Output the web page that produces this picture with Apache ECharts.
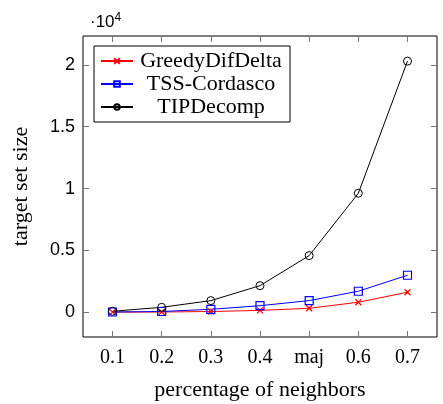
<!DOCTYPE html>
<html>
<head>
<meta charset="utf-8">
<script src="https://cdn.jsdelivr.net/npm/echarts@6/dist/echarts.min.js"></script>
<style>html,body{margin:0;padding:0;background:#fff;}#c{width:443px;height:404px;}</style>
</head>
<body>
<div id="c"></div>
<script>
const categories = ['0.1', '0.2', '0.3', '0.4', 'maj', '0.6', '0.7'];
const greedyDifDelta = [10, 20, 60, 150, 320, 810, 1620];
const tssCordasco = [20, 60, 240, 530, 940, 1700, 2990];
const tipDecomp = [80, 400, 940, 2150, 4580, 9620, 20300];
const yTicks = [0, 5000, 10000, 15000, 20000];
const xTicks = [0, 1, 2, 3, 4, 5, 6];

const SERIF = 'Liberation Serif';
const SANS = 'Liberation Sans';

function pts(arr) { return arr.map((v, i) => [i, v]); }

const chart = echarts.init(document.getElementById('c'), null, { renderer: 'canvas' });
const tickStyle = { show: true, inside: true, length: 6, lineStyle: { color: '#777', width: 1 }, customValues: xTicks };
const yTickStyle = { show: true, inside: true, length: 6, lineStyle: { color: '#777', width: 1 }, customValues: yTicks };
const noLine = { show: false, onZero: false };

chart.setOption({
  animation: false,
  backgroundColor: '#fff',
  grid: { left: 83, right: 6, top: 36, bottom: 67, show: true, borderColor: '#000', borderWidth: 1,
    backgroundColor: 'transparent', containLabel: false, outerBoundsMode: 'none' },
  graphic: [{
    type: 'text', left: 90, top: 12,
    style: { text: '·10{s|4}', font: '17px ' + SANS, fill: '#000',
      rich: { s: { fontSize: 12, fontFamily: SANS, verticalAlign: 'top', padding: [0, 0, 8, 0] } } }
  }],
  xAxis: [{
    type: 'value', min: -0.6, max: 6.6, position: 'bottom',
    axisLine: noLine, splitLine: { show: false },
    axisTick: tickStyle,
    axisLabel: { customValues: xTicks, margin: 11, fontFamily: SERIF, fontSize: 20, color: '#000',
      formatter: v => categories[Math.round(v)] },
    name: 'percentage of neighbors', nameLocation: 'middle', nameGap: 42,
    nameTextStyle: { fontFamily: SERIF, fontSize: 22, color: '#000' }
  }, {
    type: 'value', min: -0.6, max: 6.6, position: 'top',
    axisLine: noLine, splitLine: { show: false },
    axisTick: tickStyle, axisLabel: { show: false }
  }],
  yAxis: [{
    type: 'value', min: -2000, max: 22330, position: 'left',
    axisLine: noLine, splitLine: { show: false },
    axisTick: yTickStyle,
    axisLabel: { customValues: yTicks, margin: 8, fontFamily: SANS, fontSize: 18, color: '#000',
      formatter: v => String(v / 10000) },
    name: 'target set size', nameLocation: 'middle', nameGap: 51, nameRotate: 90,
    nameTextStyle: { fontFamily: SERIF, fontSize: 22, color: '#000' }
  }, {
    type: 'value', min: -2000, max: 22330, position: 'right',
    axisLine: noLine, splitLine: { show: false },
    axisTick: yTickStyle, axisLabel: { show: false }
  }],
  legend: {
    left: 94, top: 46, orient: 'vertical',
    backgroundColor: '#fff', borderColor: '#000', borderWidth: 1,
    padding: [4, 6, 4, 6], itemGap: 1, itemWidth: 32, itemHeight: 7,
    textStyle: { fontFamily: SERIF, fontSize: 22, color: '#000',
      rich: { a: { width: 146, align: 'center', fontFamily: SERIF, fontSize: 22, lineHeight: 25 } } },
    formatter: name => '{a|' + name + '}',
    data: ['GreedyDifDelta', 'TSS-Cordasco', 'TIPDecomp']
  },
  series: [{
    name: 'GreedyDifDelta', type: 'line', data: pts(greedyDifDelta),
    symbol: 'path://M0,0L10,10M10,0L0,10', symbolSize: 6,
    lineStyle: { color: '#ff0000', width: 1 },
    itemStyle: { color: '#ff0000', borderColor: '#ff0000', borderWidth: 1.2 }
  }, {
    name: 'TSS-Cordasco', type: 'line', data: pts(tssCordasco),
    symbol: 'rect', symbolSize: 8,
    lineStyle: { color: '#0000ff', width: 1 },
    itemStyle: { color: 'none', borderColor: '#0000ff', borderWidth: 1.2 }
  }, {
    name: 'TIPDecomp', type: 'line', data: pts(tipDecomp),
    symbol: 'circle', symbolSize: 8,
    lineStyle: { color: '#000', width: 1 },
    itemStyle: { color: 'none', borderColor: '#000', borderWidth: 1 }
  }]
});
</script>
</body>
</html>
